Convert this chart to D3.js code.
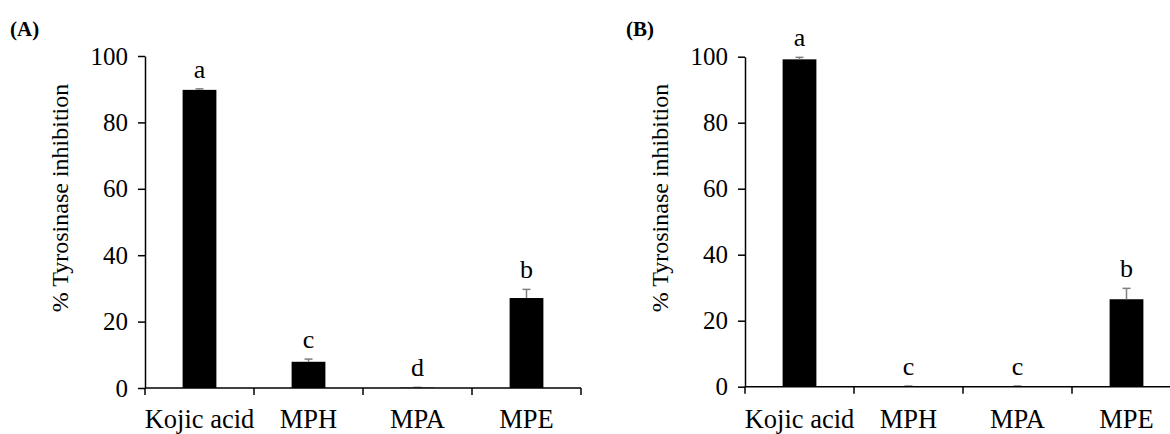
<!DOCTYPE html>
<html>
<head>
<meta charset="utf-8">
<script src="https://cdn.jsdelivr.net/npm/d3@7"></script>
<style>
  html, body { margin: 0; padding: 0; background: #fff; }
  svg { display: block; }
  text { font-family: "Liberation Serif", "Times New Roman", serif; fill: #000; }
</style>
</head>
<body>
<svg id="chart" width="1170" height="434"></svg>
<script>
// ---- data ----
const categories = ["Kojic acid", "MPH", "MPA", "MPE"];
const yTicks = [0, 20, 40, 60, 80, 100];

const valuesA = [89.8, 7.9, 0.1, 27.1];
const errorsA = [0.3, 0.8, 0.1, 2.6];
const lettersA = ["a", "c", "d", "b"];

const valuesB = [99.2, 0.1, 0.1, 26.5];
const errorsB = [0.6, 0.1, 0.1, 3.3];
const lettersB = ["a", "c", "c", "b"];

const panelLabels = ["(A)", "(B)"];
const yTitle = "% Tyrosinase inhibition";

// ---- drawing ----
const svg = d3.select("#chart");

const panels = [
  { label: panelLabels[0], values: valuesA, errors: errorsA, letters: lettersA,
    x0: 145, y0: 388, y1: 56, labelX: 10, titleX: 68, titleY: 198 },
  { label: panelLabels[1], values: valuesB, errors: errorsB, letters: lettersB,
    x0: 745, y0: 386.7, y1: 56.7, labelX: 626, titleX: 668, titleY: 198 }
];

const bandW = 109;

panels.forEach(p => {
  const g = svg.append("g");

  const x = d3.scaleBand()
    .domain(categories)
    .range([p.x0, p.x0 + bandW * categories.length])
    .paddingInner(0.69).paddingOuter(0.345);
  const xb = d3.scaleBand().domain(categories)
    .range([p.x0, p.x0 + bandW * categories.length]);

  const y = d3.scaleLinear().domain([0, 100]).range([p.y0, p.y1]);

  // bars
  g.selectAll("rect.bar").data(categories).enter().append("rect")
    .attr("x", (d) => x(d))
    .attr("width", x.bandwidth())
    .attr("y", (d, i) => y(p.values[i]))
    .attr("height", (d, i) => y(0) - y(p.values[i]))
    .attr("fill", "#000");

  // error bars (upper only)
  const eb = g.selectAll("g.err").data(categories).enter().append("g")
    .attr("transform", d => `translate(${x(d) + x.bandwidth() / 2},0)`);
  eb.append("line")
    .attr("x1", 0).attr("x2", 0)
    .attr("y1", (d, i) => y(p.values[i]))
    .attr("y2", (d, i) => y(p.values[i] + p.errors[i]))
    .attr("stroke", "#7f7f7f").attr("stroke-width", 1.5);
  eb.append("line")
    .attr("x1", -4).attr("x2", 4)
    .attr("y1", (d, i) => y(p.values[i] + p.errors[i]))
    .attr("y2", (d, i) => y(p.values[i] + p.errors[i]))
    .attr("stroke", "#7f7f7f").attr("stroke-width", 1.5);

  // letters
  g.selectAll("text.letter").data(categories).enter().append("text")
    .attr("x", d => x(d) + x.bandwidth() / 2)
    .attr("y", (d, i) => y(p.values[i] + p.errors[i]) - 11)
    .attr("text-anchor", "middle")
    .style("font-size", "26px")
    .text((d, i) => p.letters[i]);

  // y axis
  const yAxis = d3.axisLeft(y).tickValues(yTicks).tickSize(7).tickPadding(10).tickSizeOuter(0);
  const ya = g.append("g").attr("transform", `translate(${p.x0},0)`).call(yAxis)
    .attr("font-family", null).attr("font-size", null);
  ya.select(".domain").attr("stroke", "#000").attr("stroke-width", 1.5);
  ya.selectAll(".tick line").attr("stroke", "#000").attr("stroke-width", 1.5);
  ya.selectAll(".tick text").style("font-size", "25px").attr("fill", "#000");

  // x axis: line at zero, ticks at band boundaries
  const xa = g.append("g");
  xa.append("line")
    .attr("x1", p.x0).attr("x2", p.x0 + bandW * categories.length)
    .attr("y1", y(0)).attr("y2", y(0))
    .attr("stroke", "#000").attr("stroke-width", 1.5);
  const bounds = categories.map(d => xb(d)).concat([p.x0 + bandW * categories.length]);
  xa.selectAll("line.tk").data(bounds).enter().append("line")
    .attr("x1", d => d).attr("x2", d => d)
    .attr("y1", y(0)).attr("y2", y(0) + 7)
    .attr("stroke", "#000").attr("stroke-width", 1.5);
  xa.selectAll("text.cat").data(categories).enter().append("text")
    .attr("x", d => xb(d) + xb.bandwidth() / 2)
    .attr("y", 428)
    .attr("text-anchor", "middle")
    .style("font-size", "26.5px")
    .text(d => d);

  // y title
  g.append("text")
    .attr("transform", `translate(${p.titleX},${p.titleY}) rotate(-90)`)
    .attr("text-anchor", "middle")
    .style("font-size", "24px")
    .text(yTitle);

  // panel label
  g.append("text")
    .attr("x", p.labelX).attr("y", 36)
    .style("font-size", "21px").style("font-weight", "bold")
    .text(p.label);
});
</script>
</body>
</html>
